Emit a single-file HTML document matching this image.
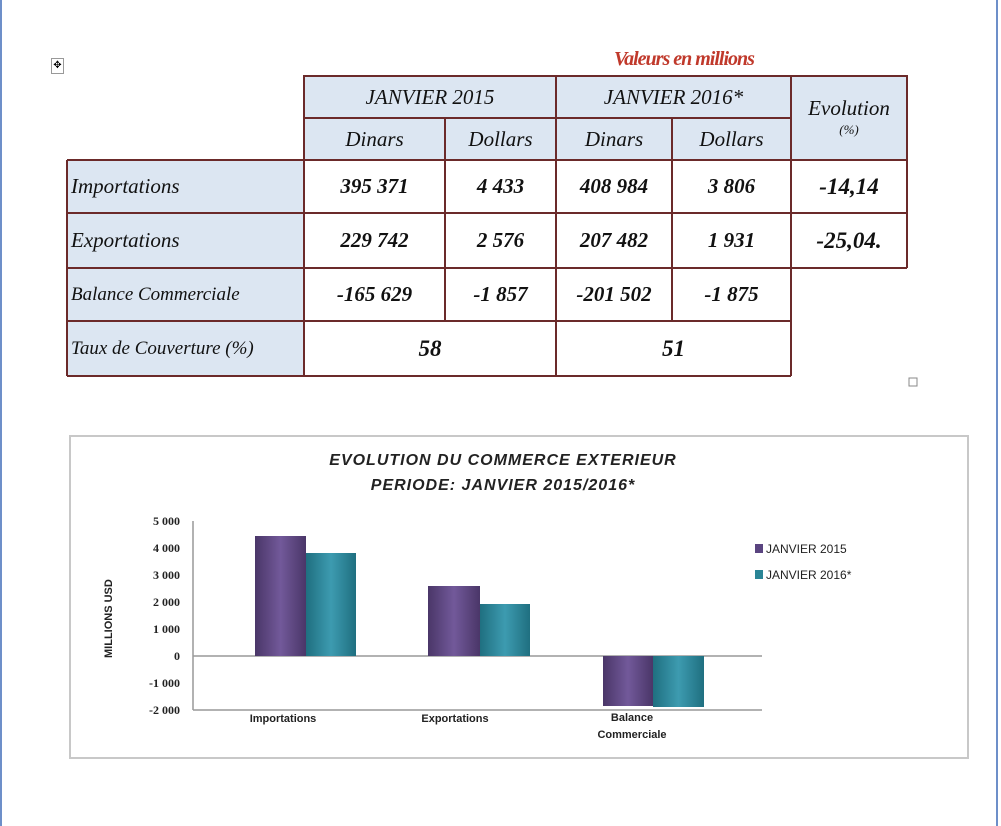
<!DOCTYPE html>
<html><head><meta charset="utf-8"><style>
body{margin:0;width:1001px;height:826px;background:#fff;position:relative;overflow:hidden;font-family:"Liberation Serif",serif}
.a{position:absolute}
.c{position:absolute;box-sizing:border-box;display:flex;align-items:center;justify-content:center;font-style:italic;font-size:21px;color:#111;}
.h{background:#dce6f2}
.b{font-weight:bold}
.l{justify-content:flex-start;padding-left:4px}
.t{font-family:"Liberation Sans",sans-serif;font-weight:bold;fill:#222}
</style></head><body>
<div class="a" style="left:0;top:0;width:2px;height:826px;background:#6d8fc9"></div>
<div class="a" style="left:996px;top:0;width:2px;height:826px;background:#6d8fc9"></div>
<div class="a" style="left:51px;top:58px;width:11px;height:14px;border:1px solid #999;font-size:10px;line-height:14px;text-align:center">✥</div>
<div class="a" style="left:614px;top:48px;font-size:20px;font-weight:bold;font-style:italic;color:#c0392b;letter-spacing:-1px">Valeurs en millions</div>
<svg class="a" style="left:0;top:0" width="1001" height="400">
<g fill="#dce6f2">
<rect x="304" y="76" width="603" height="84"/>
<rect x="67" y="160" width="237" height="216"/>
</g>
<g stroke="#6b2a2a" stroke-width="2" fill="none">
<rect x="304" y="76" width="603" height="84"/>
<line x1="304" y1="118" x2="791" y2="118"/>
<line x1="445" y1="118" x2="445" y2="321"/>
<line x1="672" y1="118" x2="672" y2="321"/>
<line x1="556" y1="76" x2="556" y2="376"/>
<line x1="791" y1="76" x2="791" y2="376"/>
<line x1="67" y1="160" x2="907" y2="160"/>
<line x1="67" y1="213" x2="907" y2="213"/>
<line x1="67" y1="268" x2="907" y2="268"/>
<line x1="67" y1="321" x2="791" y2="321"/>
<line x1="67" y1="376" x2="791" y2="376"/>
<line x1="67" y1="160" x2="67" y2="376"/>
<line x1="304" y1="160" x2="304" y2="376"/>
<line x1="907" y1="160" x2="907" y2="268"/>
</g>
<rect x="909" y="378" width="8" height="8" fill="none" stroke="#888"/>
</svg>
<div class="c" style="left:304px;top:76px;width:252px;height:42px">JANVIER 2015</div>
<div class="c" style="left:556px;top:76px;width:235px;height:42px">JANVIER 2016*</div>
<div class="c" style="left:791px;top:90px;width:116px;height:36px">Evolution</div>
<div class="c" style="left:791px;top:120px;width:116px;height:20px;font-size:13px">(%)</div>
<div class="c" style="left:304px;top:118px;width:141px;height:42px">Dinars</div>
<div class="c" style="left:445px;top:118px;width:111px;height:42px">Dollars</div>
<div class="c" style="left:556px;top:118px;width:116px;height:42px">Dinars</div>
<div class="c" style="left:672px;top:118px;width:119px;height:42px">Dollars</div>

<div class="c l" style="left:67px;top:160px;width:237px;height:53px">Importations</div>
<div class="c l" style="left:67px;top:213px;width:237px;height:55px">Exportations</div>
<div class="c l" style="left:67px;top:268px;width:237px;height:53px;font-size:19px">Balance Commerciale</div>
<div class="c l" style="left:67px;top:321px;width:237px;height:55px;font-size:19px">Taux de Couverture (%)</div>

<div class="c b" style="left:304px;top:160px;width:141px;height:53px">395 371</div>
<div class="c b" style="left:445px;top:160px;width:111px;height:53px">4 433</div>
<div class="c b" style="left:556px;top:160px;width:116px;height:53px">408 984</div>
<div class="c b" style="left:672px;top:160px;width:119px;height:53px">3 806</div>
<div class="c b" style="left:791px;top:160px;width:116px;height:53px;font-size:23px">-14,14</div>
<div class="c b" style="left:304px;top:213px;width:141px;height:55px">229 742</div>
<div class="c b" style="left:445px;top:213px;width:111px;height:55px">2 576</div>
<div class="c b" style="left:556px;top:213px;width:116px;height:55px">207 482</div>
<div class="c b" style="left:672px;top:213px;width:119px;height:55px">1 931</div>
<div class="c b" style="left:791px;top:213px;width:116px;height:55px;font-size:23px">-25,04.</div>
<div class="c b" style="left:304px;top:268px;width:141px;height:53px">-165 629</div>
<div class="c b" style="left:445px;top:268px;width:111px;height:53px">-1 857</div>
<div class="c b" style="left:556px;top:268px;width:116px;height:53px">-201 502</div>
<div class="c b" style="left:672px;top:268px;width:119px;height:53px">-1 875</div>
<div class="c b" style="left:304px;top:321px;width:252px;height:55px;font-size:23px">58</div>
<div class="c b" style="left:556px;top:321px;width:235px;height:55px;font-size:23px">51</div>

<svg class="a" style="left:0;top:0" width="1001" height="826">
<defs>
<linearGradient id="p" x1="0" x2="1"><stop offset="0" stop-color="#4a3668"/><stop offset=".5" stop-color="#72599a"/><stop offset="1" stop-color="#4a3668"/></linearGradient>
<linearGradient id="q" x1="0" x2="1"><stop offset="0" stop-color="#1f6f80"/><stop offset=".5" stop-color="#3d9bb0"/><stop offset="1" stop-color="#1f6f80"/></linearGradient>
</defs>
<rect x="70" y="436" width="898" height="322" fill="#fff" stroke="#c8c8c8" stroke-width="2"/>
<text class="t" x="503" y="465" text-anchor="middle" font-size="16" font-style="italic" letter-spacing="1">EVOLUTION  DU  COMMERCE  EXTERIEUR</text>
<text class="t" x="503" y="490" text-anchor="middle" font-size="16" font-style="italic" letter-spacing="1">PERIODE: JANVIER  2015/2016*</text>
<g stroke="#999" stroke-width="1.5">
<line x1="193" y1="521" x2="193" y2="710"/>
<line x1="193" y1="656" x2="762" y2="656"/>
<line x1="193" y1="710" x2="762" y2="710"/>
</g>
<g font-family="Liberation Serif" font-weight="bold" font-size="12" text-anchor="end" fill="#222">
<text x="180" y="525">5 000</text><text x="180" y="552">4 000</text><text x="180" y="579">3 000</text>
<text x="180" y="606">2 000</text><text x="180" y="633">1 000</text><text x="180" y="660">0</text>
<text x="180" y="687">-1 000</text><text x="180" y="714">-2 000</text>
</g>
<text class="t" font-size="11" transform="translate(112,658) rotate(-90)">MILLIONS USD</text>
<rect x="255" y="536" width="51" height="120" fill="url(#p)"/>
<rect x="306" y="553" width="50" height="103" fill="url(#q)"/>
<rect x="428" y="586" width="52" height="70" fill="url(#p)"/>
<rect x="480" y="604" width="50" height="52" fill="url(#q)"/>
<rect x="603" y="656" width="50" height="50" fill="url(#p)"/>
<rect x="653" y="656" width="51" height="51" fill="url(#q)"/>
<g class="t" font-size="11" text-anchor="middle">
<text x="283" y="722" class="t">Importations</text>
<text x="455" y="722" class="t">Exportations</text>
<text x="632" y="721" class="t">Balance</text>
<text x="632" y="738" class="t">Commerciale</text>
</g>
<rect x="755" y="544" width="8" height="9" fill="#5a4480"/>
<rect x="755" y="570" width="8" height="9" fill="#2a8596"/>
<text x="766" y="553" font-family="Liberation Sans" font-size="12" fill="#222">JANVIER 2015</text>
<text x="766" y="579" font-family="Liberation Sans" font-size="12" fill="#222">JANVIER  2016*</text>
</svg>
</body></html>
